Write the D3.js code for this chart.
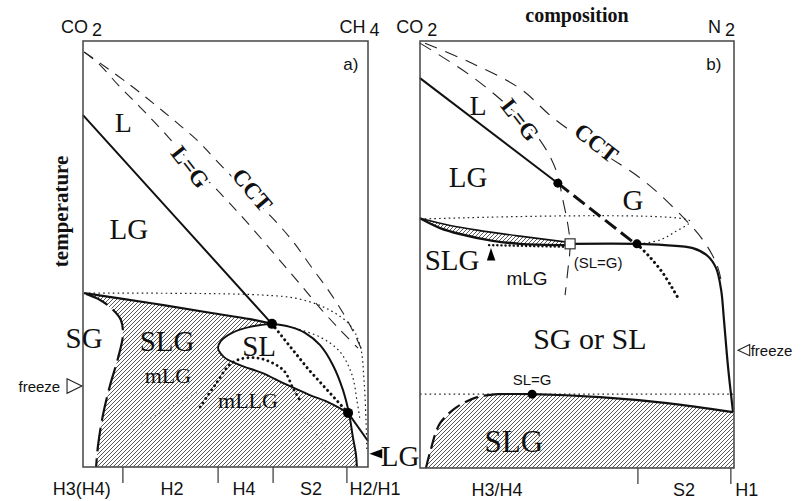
<!DOCTYPE html>
<html><head><meta charset="utf-8">
<script src="https://cdn.jsdelivr.net/npm/d3@7"></script>
<style>body{margin:0;background:#fff}svg{display:block}</style>
</head><body><svg id="c" width="807" height="501"></svg>
<script>
// ---------- data (x = composition %, y = temperature %) ----------
// panel a: CO2 - CH4
const bubbleA   = [[0,82.6],[34,57.5],[66.3,33.6]];
const bubbleA2  = [[93,12.7],[100,6.1]];
const metaA     = [[66.3,33.6],[79,23],[93,12.7]];
const lgA       = [[0.4,97.4],[5.3,94.8],[13.0,89.2],[20.0,84.5],[27.0,79.6],[38.6,70.9],[49.8,63.1],[56.8,58.0],[63.2,53.1],[69.8,47.9],[76.1,43.0],[83.2,37.3],[90.2,32.2],[96.5,27.9]];
const cctA      = [[0.4,97.4],[6.0,94.8],[16.5,89.7],[24.6,85.4],[32.6,81.0],[40.4,76.5],[45.6,72.8],[56.8,65.0],[68.1,57.3],[74.4,52.3],[80.4,46.7],[86.3,41.3],[91.2,36.2],[95.4,31.0],[98.6,26.3]];
const slgTopA   = [[0.4,40.8],[23.5,38.5],[44.6,36.2],[58.6,34.7],[66.3,33.6]];
const loopA     = [[66.3,33.6],[58.6,32.9],[52.3,31.5],[48.4,29.6],[47.4,27.9],[49.5,25.8],[55.1,23.9],[62.8,22.1],[70.9,19.5],[79.6,16.9],[86.7,15.0],[93.0,12.7]];
const outerA    = [[66.3,33.6],[72.6,32.9],[77.9,31.5],[83.2,28.6],[87.7,23.9],[91.2,18.1],[93.3,12.7],[94.7,7.0],[95.8,2.8],[96.1,0]];
const sgA       = [[1.1,40.6],[6.0,39.2],[10.2,37.1],[13.3,34.5],[14.0,31.0],[12.3,25.6],[9.5,19.2],[7.0,12.2],[5.3,5.2],[4.6,0]];
const dotA1     = [[0.4,40.8],[62.1,40.4],[76.1,39.4],[86.7,36.8],[93.7,33.3],[97.2,28.6],[98.6,20.4],[99.3,11.0],[99.6,4.0]];
const dotA2     = [[72.6,32.9],[83.2,30.5],[90.2,27.0],[94.4,21.6],[96.1,15.7],[97.2,11.0]];
const mllgA     = [[41.1,14.1],[46.3,19.2],[52.6,24.6],[61.1,25.6],[70.2,22.8],[73.7,18.5],[76.1,15.7]];
const faintA1   = [[17.5,8.7],[24,11.5],[32,14.5],[40,17.5]];
const faintA2   = [[73.5,14.1],[80,9.5],[86.5,2.5]];
const pointsA   = [[66.3,33.6],[93.0,12.7]];
const tickA     = [14.0,47.4,66.7,92.6];
const tickLabA  = ["H3(H4)","H2","H4","S2","H2/H1"];
const tickLabPosA = [-0.4,31.2,56.5,80.0,102.5];

// panel b: CO2 - N2
const bubbleB   = [[0,91.3],[43.9,66.7]];
const heavyB    = [[43.9,66.7],[69.1,52.2]];
const lgB       = [[0,99.5],[15.9,92.0],[28.7,84.3],[38.2,76.8],[43.3,69.8],[45.5,62.8],[47.1,56.9],[47.8,52.2],[47.1,46.4],[46.2,40.5]];
const cctB      = [[1.6,99.5],[15.9,95.0],[31.8,88.9],[42.4,82.0],[57.3,74.2],[70.1,67.9],[79.6,61.8],[90.1,53.4],[94.6,47.5],[96.2,42.9]];
const bandUpB   = [[0,58.5],[9.6,56.8],[18.2,55.7],[31.8,54.3],[46.8,52.9]];
const bandLoB   = [[46.8,52.2],[31.8,52.5],[23.2,53.2],[12.7,54.8],[6.4,56.2],[0,58.5]];
const solidB    = [[47.8,52.5],[69.1,52.5],[78.0,52.2],[86.9,51.5],[91.7,49.6],[94.3,46.8],[95.9,41.7],[96.8,34.7],[98.1,23.7],[99.7,13.1]];
const dotB1     = [[0,58.3],[86,57.8],[81.2,55.3],[76.4,53.4],[70.1,52.5]];
const metaB     = [[69.1,52.5],[73.2,49.4],[77.1,45.9],[80.3,42.2],[82.2,39.8]];
const dotMetaB  = [[22,52.2],[46.5,51.8]];
const dotB2     = [[0,17.3],[99.7,17.3]];
const slgTopB   = [[24.5,17.3],[35.7,17.3],[57.3,16.6],[78.7,15.2],[99.7,13.1]];
const slgDashB  = [[1.9,0],[3.2,3.7],[6.4,10.5],[11.8,14.3],[18.2,16.6],[24.5,17.3]];
const pointsB   = [[43.9,66.7],[69.1,52.5],[35.7,17.3]];
const squareB   = [[47.8,52.5]];
const tickB     = [69.4,99.0];
const tickLabB  = ["H3/H4","S2","H1"];
const tickLabPosB = [24.5,84.1,104.1];

// ---------- drawing ----------
const svg = d3.select("#c");
const SERIF = "'Liberation Serif','Times New Roman',serif";
const SANS  = "'Liberation Sans',Arial,Helvetica,sans-serif";

const defs = svg.append("defs");
const pat = defs.append("pattern").attr("id","hatch").attr("patternUnits","userSpaceOnUse")
  .attr("width",4).attr("height",4);
pat.append("path").attr("d","M-1,1 l2,-2 M0,4 l4,-4 M3,5 l2,-2")
  .attr("stroke","#3a3a3a").attr("stroke-width",0.85);

function panel(x0,x1,y0,y1){
  const x = d3.scaleLinear().domain([0,100]).range([x0,x1]);
  const y = d3.scaleLinear().domain([0,100]).range([y1,y0]);
  return {x,y,g:svg.append("g")};
}
const A = panel(83,368,41,467);
const B = panel(420,734,41,468);

function line(P,data,opt){
  const gen = d3.line().x(d=>P.x(d[0])).y(d=>P.y(d[1]))
    .curve(opt.straight?d3.curveLinear:d3.curveCatmullRom.alpha(0.5));
  const p = P.g.append("path").attr("d",gen(data)).attr("fill","none")
    .attr("stroke",opt.color||"#111").attr("stroke-width",opt.w||1.8)
    .attr("stroke-linecap",opt.cap||"butt").attr("stroke-linejoin","round");
  if(opt.dash) p.attr("stroke-dasharray",opt.dash);
  return p;
}
function area(P,data){
  const gen = d3.line().x(d=>P.x(d[0])).y(d=>P.y(d[1])).curve(d3.curveLinearClosed);
  P.g.append("path").attr("d",gen(data)).attr("fill","url(#hatch)").attr("stroke","none");
}
function label(P,t,x,y,o){
  o=o||{};
  const el = P.g.append("text").attr("x",P.x(x)).attr("y",P.y(y)).text(t)
    .attr("font-family",o.sans?SANS:SERIF).attr("font-size",o.size||29)
    .attr("font-weight",o.bold?"bold":"normal")
    .attr("text-anchor",o.anchor||"middle").attr("dominant-baseline","central")
    .attr("fill","#111");
  if(o.rot) el.attr("transform",`rotate(${o.rot},${P.x(x)},${P.y(y)})`);
  if(o.halo) el.attr("stroke","#fff").attr("stroke-width",o.halo).attr("paint-order","stroke");
  return el;
}

// ---- Panel a ----
const hatchA = slgTopA.concat(loopA.slice(1), outerA.slice(6), sgA.slice().reverse());
area(A, hatchA);
line(A,faintA1,{w:1,dash:"1.2,4",color:"#777"});
line(A,faintA2,{w:1,dash:"1.2,4",color:"#777"});
line(A,lgA,{w:1.1,dash:"11,8",color:"#222"});
line(A,cctA,{w:1.1,dash:"11,8",color:"#222"});
line(A,dotA1,{w:1.2,dash:"1.6,3.2",color:"#222"});
line(A,dotA2,{w:1.2,dash:"1.6,3.2",color:"#222"});
line(A,metaA,{w:3,dash:"0.1,5",cap:"round",straight:true});
line(A,mllgA,{w:2.8,dash:"0.1,5",cap:"round"});
line(A,sgA,{w:2.2,dash:"24,7"});
line(A,bubbleA,{w:2,straight:true});
line(A,bubbleA2,{w:2,straight:true});
line(A,slgTopA,{w:2.2});
line(A,loopA,{w:1.9});
line(A,outerA,{w:2});
A.g.selectAll("circle.p").data(pointsA).enter().append("circle")
  .attr("cx",d=>A.x(d[0])).attr("cy",d=>A.y(d[1])).attr("r",5).attr("fill","#000");
A.g.selectAll("line.t").data(tickA).enter().append("line")
  .attr("x1",d=>A.x(d)).attr("x2",d=>A.x(d)).attr("y1",A.y(0)).attr("y2",A.y(0)+16)
  .attr("stroke","#333").attr("stroke-width",1.2);
A.g.selectAll("text.t").data(tickLabA).enter().append("text")
  .attr("x",(d,i)=>A.x(tickLabPosA[i])).attr("y",A.y(0)+28).text(d=>d)
  .attr("font-family",SANS).attr("font-size",18).attr("text-anchor","middle").attr("fill","#111");
A.g.append("rect").attr("x",A.x(0)).attr("y",A.y(100)).attr("width",A.x(100)-A.x(0))
  .attr("height",A.y(0)-A.y(100)).attr("fill","none").attr("stroke","#444").attr("stroke-width",1.5);
label(A,"L",14.1,80.8,{size:28});
label(A,"LG",16.1,55.9);
label(A,"L=G",37.5,70.4,{size:23,bold:true,rot:52,halo:6});
label(A,"CCT",59.3,65.0,{size:23,bold:true,rot:50,halo:6});
label(A,"a)",94.0,94.4,{sans:true,size:17});
label(A,"SG",0.4,30.3);
label(A,"SLG",29.5,29.6);
label(A,"SL",61.8,28.4);
label(A,"mLG",29.8,21.4,{size:22});
label(A,"mLLG",57.9,15.5,{size:22});
label(A,"LG",104.5,2.6,{anchor:"start"});
A.g.append("path").attr("d",d3.line()([[A.x(100.5),A.y(3.1)],[A.x(105),A.y(4.2)],[A.x(105),A.y(2.0)]])+"Z").attr("fill","#000");
A.g.append("text").attr("x",A.x(-8)).attr("y",A.y(19)).text("freeze").attr("font-family",SANS)
  .attr("font-size",15).attr("text-anchor","end").attr("dominant-baseline","central").attr("fill","#111");
A.g.append("path").attr("d",d3.line()([[A.x(-5.6),A.y(20.7)],[A.x(-0.4),A.y(19)],[A.x(-5.6),A.y(17.3)]])+"Z")
  .attr("fill","#fff").attr("stroke","#222").attr("stroke-width",1.1);
function header(x,t,sub){
  const tx = svg.append("text").attr("x",x).attr("y",33).attr("font-family",SANS).attr("font-size",18)
    .attr("text-anchor","middle").attr("fill","#111");
  tx.append("tspan").text(t);
  tx.append("tspan").attr("dx",4).attr("dy",3).text(sub);
}
header(A.x(-0.5),"CO","2");
header(A.x(97),"CH","4");
header(B.x(-1),"CO","2");
header(B.x(96),"N","2");
svg.append("text").attr("x",B.x(50)).attr("y",22).text("composition").attr("font-family",SERIF)
  .attr("font-weight","bold").attr("font-size",20).attr("text-anchor","middle").attr("fill","#111");
svg.append("text").attr("transform",`translate(${A.x(-7.7)},${A.y(60)}) rotate(-90)`).text("temperature")
  .attr("font-family",SERIF).attr("font-weight","bold").attr("font-size",21).attr("text-anchor","middle")
  .attr("dominant-baseline","central").attr("fill","#111");

// ---- Panel b ----
area(B, bandUpB.concat(bandLoB));
area(B, slgDashB.concat(slgTopB.slice(1), [[100,13.1],[100,0]]));
line(B,lgB,{w:1.1,dash:"13,9",color:"#222"});
line(B,cctB,{w:1.1,dash:"13,9",color:"#222"});
line(B,dotB1,{w:1.2,dash:"1.6,3.2",color:"#222"});
line(B,dotB2,{w:1.2,dash:"1.6,3.2",color:"#222",straight:true});
line(B,metaB,{w:3,dash:"0.1,5",cap:"round"});
line(B,dotMetaB,{w:2.4,dash:"0.1,4",cap:"round",straight:true});
line(B,heavyB,{w:3,dash:"14,6",straight:true});
line(B,bubbleB,{w:2,straight:true});
line(B,bandUpB,{w:1.6});
line(B,bandLoB,{w:2.4});
line(B,solidB,{w:2.2});
line(B,slgTopB,{w:2.2});
line(B,slgDashB,{w:2.2,dash:"14,6"});
B.g.selectAll("circle.p").data(pointsB).enter().append("circle")
  .attr("cx",d=>B.x(d[0])).attr("cy",d=>B.y(d[1])).attr("r",4.5).attr("fill","#000");
B.g.selectAll("rect.s").data(squareB).enter().append("rect")
  .attr("x",d=>B.x(d[0])-5).attr("y",d=>B.y(d[1])-5).attr("width",10).attr("height",10)
  .attr("fill","#fff").attr("stroke","#333").attr("stroke-width",1.2);
B.g.selectAll("line.t").data(tickB).enter().append("line")
  .attr("x1",d=>B.x(d)).attr("x2",d=>B.x(d)).attr("y1",B.y(0)).attr("y2",B.y(0)+16)
  .attr("stroke","#333").attr("stroke-width",1.2);
B.g.selectAll("text.t").data(tickLabB).enter().append("text")
  .attr("x",(d,i)=>B.x(tickLabPosB[i])).attr("y",B.y(0)+28).text(d=>d)
  .attr("font-family",SANS).attr("font-size",18).attr("text-anchor","middle").attr("fill","#111");
B.g.append("rect").attr("x",B.x(0)).attr("y",B.y(100)).attr("width",B.x(100)-B.x(0))
  .attr("height",B.y(0)-B.y(100)).attr("fill","none").attr("stroke","#444").attr("stroke-width",1.5);
label(B,"L",18.5,85.0,{size:28});
label(B,"LG",15.3,68.1);
label(B,"L=G",31.8,81.5,{size:23,bold:true,rot:52,halo:6});
label(B,"CCT",56.1,76.1,{size:23,bold:true,rot:38,halo:6});
label(B,"G",67.8,62.8);
label(B,"b)",93.6,94.6,{sans:true,size:17});
label(B,"SLG",10.2,48.7);
B.g.append("path").attr("d",d3.line()([[B.x(22.6),B.y(51.5)],[B.x(21.3),B.y(48.6)],[B.x(24.0),B.y(48.6)]])+"Z").attr("fill","#000");
label(B,"mLG",34.1,44.3,{sans:true,size:19});
label(B,"(SL=G)",56.7,48.2,{sans:true,size:15});
label(B,"SG or SL",54.1,30.4,{size:30});
label(B,"SL=G",35.7,20.8,{sans:true,size:15});
label(B,"SLG",29.9,6.1,{size:31});
B.g.append("path").attr("d",d3.line()([[B.x(105),B.y(28.9)],[B.x(101.3),B.y(27.6)],[B.x(105),B.y(26.3)]])+"Z")
  .attr("fill","#fff").attr("stroke","#222").attr("stroke-width",1.1);
B.g.append("text").attr("x",B.x(105.3)).attr("y",B.y(27.6)).text("freeze").attr("font-family",SANS)
  .attr("font-size",15).attr("dominant-baseline","central").attr("fill","#111");
</script></body></html>
